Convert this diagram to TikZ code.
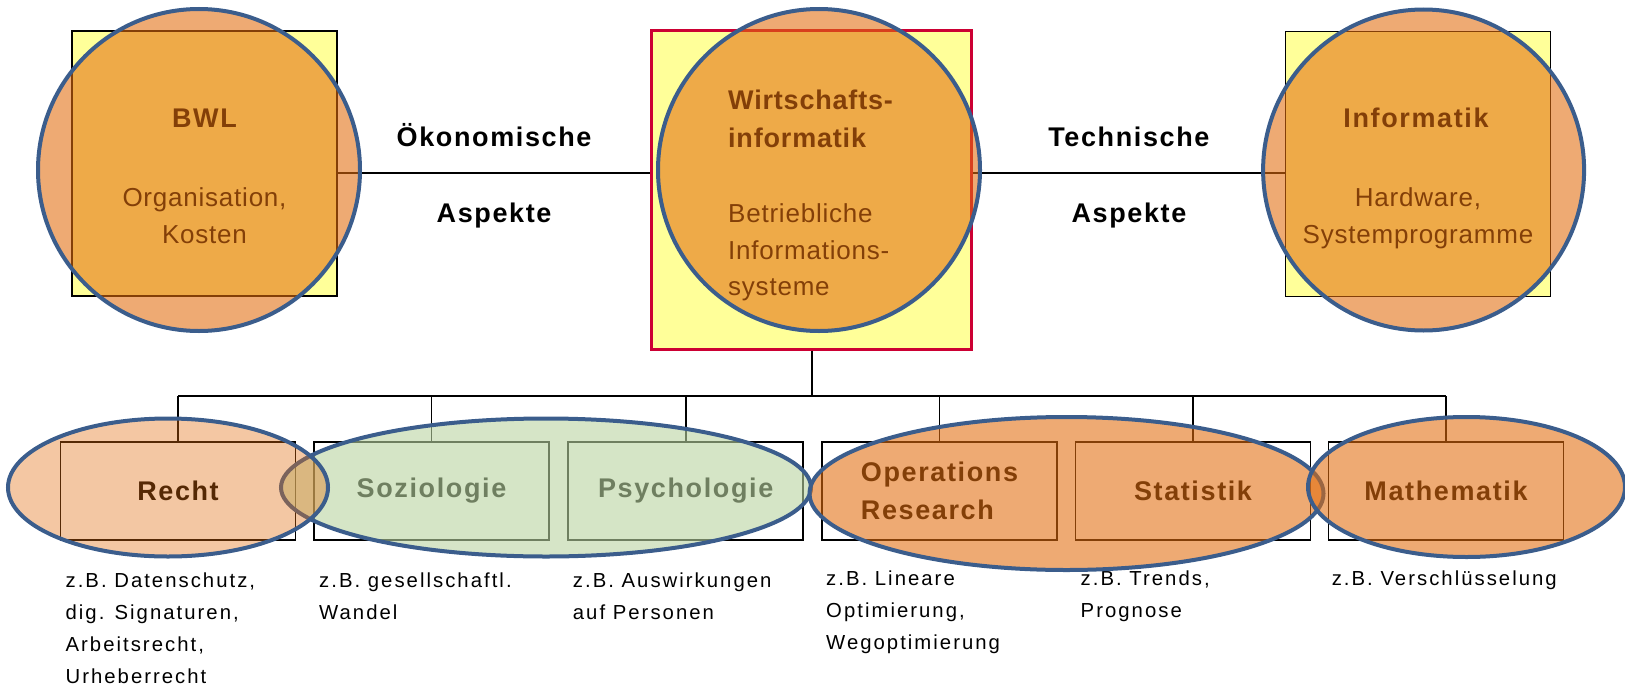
\documentclass[tikz,border=0pt]{standalone}
\usepackage{fontspec}
\setmainfont{Liberation Sans}
\newfontfamily\spacedA[LetterSpace=6]{Liberation Sans}
\newfontfamily\spacedC[LetterSpace=3]{Liberation Sans}
\newfontfamily\spacedB[LetterSpace=10]{Liberation Sans}
\definecolor{ovl}{RGB}{226,109,14}
\definecolor{grn}{RGB}{186,212,161}
\definecolor{edge}{RGB}{59,93,140}
\definecolor{yel}{RGB}{255,255,153}
\definecolor{redb}{RGB}{204,0,51}
\begin{document}
\begin{tikzpicture}[x=1pt,y=-1pt,
  topbox/.style={draw=black, line width=1.8, fill=yel, minimum width=265, minimum height=265, inner sep=0},
  wibox/.style={draw=redb, line width=3, fill=yel, minimum width=320, minimum height=319, inner sep=0},
  lowbox/.style={draw=black, line width=1.8, fill=white, minimum width=235, minimum height=98, inner sep=0,
    font=\spacedA\bfseries\fontsize{27}{38}\selectfont},
  title/.style={anchor=base, inner sep=0, font=\spacedA\bfseries\fontsize{27}{38}\selectfont},
  desc/.style={inner sep=0, font=\spacedC\fontsize{26}{36.5}\selectfont},
  note/.style={anchor=north west, align=left, inner sep=0, font=\spacedB\fontsize{20.3}{32}\selectfont},
  conn/.style={draw=black, line width=1.8},
  ell/.style={draw=edge, line width=4}
]
\useasboundingbox (0,0) rectangle (1625,688);
% top boxes
\node[topbox] (bwl) at (204.5,163.5) {};
\node[wibox] (wi) at (811.7,189.5) {};
\node[topbox] (inf) at (1418,164) {};
\coordinate (h) at (0,173);
\draw[conn] (bwl.east |- h) -- node[title, yshift=27] (oek) {Ökonomische} node[title, yshift=-49] (asp1) {Aspekte} (wi.west |- h);
\draw[conn] (wi.east |- h) -- node[title, yshift=27] (tech) {Technische} node[title, yshift=-49] (asp2) {Aspekte} (inf.west |- h);
% top texts
\node[title] (bwlt) at (204.5,127) {BWL};
\node[desc, align=center, anchor=north] (bwld) at (204.5,187.7) {Organisation,\\Kosten};
\node[inner sep=0, anchor=north west, align=left, font=\spacedC\bfseries\fontsize{27}{38}\selectfont] (wit) at (728,89.5) {Wirtschafts-\\informatik};
\node[desc, align=left, anchor=north west] (wid) at (728,203.7) {Betriebliche\\Informations-\\systeme};
\node[title] (inft) at (1416,127) {Informatik};
\node[desc, align=center, anchor=north] (infd) at (1418,187.7) {Hardware,\\Systemprogramme};
% bottom boxes
\node[lowbox] (recht) at (178,491) {Recht};
\node[lowbox] (sozio) at (431.5,491) {Soziologie};
\node[lowbox] (psych) at (685.7,491) {Psychologie};
\node[lowbox, align=left] (or) at (939.5,491) {Operations\\Research};
\node[lowbox] (stat) at (1193,491) {Statistik};
\node[lowbox] (mathe) at (1446,491) {Mathematik};
% bus
\coordinate (bus) at (0,396);
\draw[conn] (wi.south) -- (wi.south |- bus);
\draw[conn] (recht.north |- bus) -- (mathe.north |- bus);
\foreach \n in {recht,sozio,psych,or,stat,mathe}{
  \draw[conn] (\n.north |- bus) -- (\n.north);
}
% notes
\node[note] (n1) at (65.4,573) {z.B. Datenschutz,\\dig. Signaturen,\\Arbeitsrecht,\\Urheberrecht};
\node[note] (n2) at (319,573) {z.B. gesellschaftl.\\Wandel};
\node[note] (n3) at (572.7,573) {z.B. Auswirkungen\\auf Personen};
\node[note] (n4) at (826,571) {z.B. Lineare\\Optimierung,\\Wegoptimierung};
\node[note] (n5) at (1080.5,571) {z.B. Trends,\\Prognose};
\node[note] (n6) at (1331.6,571) {z.B. Verschlüsselung};
% overlay ellipses
\draw[ell, fill=ovl, fill opacity=0.58] (199,170) circle[radius=161];
\draw[ell, fill=ovl, fill opacity=0.58] (819,170) circle[radius=161];
\draw[ell, fill=ovl, fill opacity=0.58] (1423.6,170) circle[radius=160.5];
\draw[ell, fill=grn, fill opacity=0.6] (546,487.5) ellipse[x radius=265, y radius=69];
\draw[ell, fill=ovl, fill opacity=0.38] (168,487.5) ellipse[x radius=160, y radius=69];
\draw[ell, fill=ovl, fill opacity=0.58] (1066.5,493.5) ellipse[x radius=257, y radius=76.5];
\draw[ell, fill=ovl, fill opacity=0.58] (1466.5,487) ellipse[x radius=158.5, y radius=70];
\end{tikzpicture}
\end{document}
